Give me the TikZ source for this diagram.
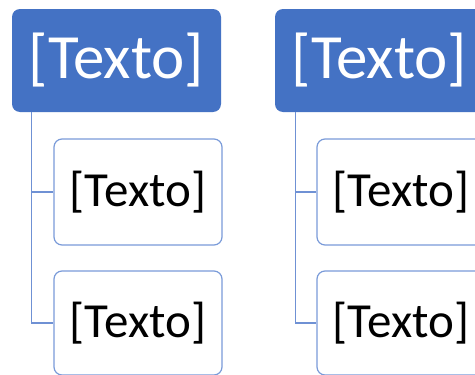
\documentclass[tikz,border=0pt]{standalone}
\usepackage{fontspec}
\setmainfont{Carlito}
\definecolor{parentblue}{HTML}{4472C4}
\definecolor{childline}{HTML}{7A9BD9}
\definecolor{connline}{HTML}{6F91D4}
\begin{document}
\begin{tikzpicture}[x=1pt,y=-1pt,
  parentbox/.style={draw=none, fill=parentblue, rounded corners=8pt, minimum width=209pt, minimum height=103pt, inner sep=0pt, text=white, font=\fontsize{63}{75}\selectfont},
  childbox/.style={draw=childline, line width=1.2pt, fill=white, rounded corners=8pt, minimum width=168pt, inner sep=0pt, text=black, font=\fontsize{49}{58}\selectfont},
  conn/.style={draw=connline, line width=1.1pt}]
\useasboundingbox (0,0) rectangle (475,375);
\fill[white] (0,0) rectangle (475,375);
% left column
\node[parentbox] (p1) at (116.5,60.5) {[Texto]};
\node[childbox, minimum height=106pt] (c11) at (138,192) {[Texto]};
\node[childbox, minimum height=104pt] (c12) at (138,323) {[Texto]};
% right column
\node[parentbox] (p2) at (379.5,60.5) {[Texto]};
\node[childbox, minimum height=106pt] (c21) at (401,192) {[Texto]};
\node[childbox, minimum height=104pt] (c22) at (401,323) {[Texto]};
% connectors
\coordinate (t1) at ([xshift=20pt]p1.south west);
\coordinate (t2) at ([xshift=21pt]p2.south west);
\draw[conn] (t1) |- (c12.west);
\draw[conn] (t1 |- c11.west) -- (c11.west);
\draw[conn] (t2) |- (c22.west);
\draw[conn] (t2 |- c21.west) -- (c21.west);
\end{tikzpicture}
\end{document}
